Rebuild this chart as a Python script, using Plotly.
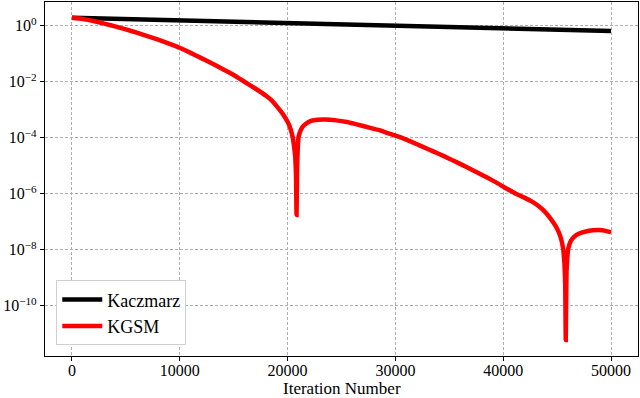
import plotly.graph_objects as go

# Kaczmarz residual (log-linear decay)
kacz_x = [0, 10000, 20000, 30000, 40000, 50000]
kacz_y = [1.93, 1.55, 1.245, 1.0, 0.80, 0.645]

# KGSM residual
kgsm_x = [0, 1000, 2000, 3000, 4000, 5000, 6000, 7000, 8000, 9000, 10000,
          11000, 12000, 13000, 14000, 15000, 16000, 17000, 18000, 18500, 19000,
          19500, 20000, 20250, 20460, 20600, 20710, 20780, 20830, 20880, 20940,
          21020, 21200, 21390, 21700, 22170, 22800, 23500, 24500, 25500, 26500,
          27500, 28500, 29500, 30500, 31500, 32500, 33500, 34500, 35500, 36500,
          37500, 38500, 39500, 40000, 40500, 41170, 42000, 42600, 43300, 43950,
          44500, 45000, 45350, 45550, 45680, 45750, 45800, 45870, 46040,
          46300, 46570, 47000, 47650, 48300, 48890, 49500, 50000]
kgsm_y = [1.93, 1.74, 1.48, 1.20, 0.955, 0.741, 0.569, 0.427, 0.320, 0.232, 0.163,
          0.108, 0.0700, 0.0447, 0.0282, 0.0174, 0.0100, 5.75e-3, 3.16e-3, 2.19e-3, 1.32e-3,
          7.6e-4, 3.7e-4, 2.19e-4, 1.10e-4, 5.0e-5, 2.09e-5, 5.0e-6, 1.74e-7, 7.9e-6, 3.98e-5,
          1.10e-4, 1.78e-4, 2.45e-4, 3.16e-4, 3.98e-4, 4.37e-4, 4.47e-4, 4.17e-4, 3.63e-4, 2.95e-4,
          2.34e-4, 1.86e-4, 1.38e-4, 1.02e-4, 7.1e-5, 4.8e-5, 3.24e-5, 2.19e-5, 1.45e-5, 9.3e-6,
          6.0e-6, 3.8e-6, 2.34e-6, 1.78e-6, 1.38e-6, 1.0e-6, 7.1e-7, 5.4e-7, 3.55e-7, 2.1e-7,
          1.12e-7, 5.6e-8, 2.6e-8, 1.12e-8, 3.16e-9, 6.0e-10, 5.9e-12, 1.58e-9, 1.12e-8,
          2.14e-8, 2.88e-8, 3.72e-8, 4.47e-8, 4.9e-8, 5.0e-8, 4.68e-8, 4.17e-8]

ytick_vals = [1, 1e-2, 1e-4, 1e-6, 1e-8, 1e-10]
ytick_text = ["10<sup>0</sup>", "10<sup>−2</sup>", "10<sup>−4</sup>",
              "10<sup>−6</sup>", "10<sup>−8</sup>", "10<sup>−10</sup>"]
xtick_vals = [0, 10000, 20000, 30000, 40000, 50000]
xtick_text = ["0", "10000", "20000", "30000", "40000", "50000"]
x_title = "Iteration Number"

font_family = "Liberation Serif, DejaVu Serif, serif"

fig = go.Figure()
fig.add_trace(go.Scatter(x=kacz_x, y=kacz_y, mode="lines", name="Kaczmarz",
                         line=dict(color="black", width=4.5)))
fig.add_trace(go.Scatter(x=kgsm_x, y=kgsm_y, mode="lines", name="KGSM",
                         line=dict(color="#ff0000", width=4.5, shape="spline", smoothing=0.3)))

axis_common = dict(showline=True, linecolor="black", linewidth=1.2, mirror=True,
                   ticks="outside", ticklen=4, tickcolor="black", tickwidth=1,
                   showgrid=True, gridcolor="#b0b0b0", gridwidth=0.8, griddash="3px,2px",
                   zeroline=False, automargin=False,
                   tickfont=dict(family=font_family, size=16, color="black"))

fig.update_xaxes(range=[-2500, 52500], tickvals=xtick_vals, ticktext=xtick_text,
                 ticklabelstandoff=-4, **axis_common)
fig.update_yaxes(type="log", range=[-11.8, 0.85], tickvals=ytick_vals, ticktext=ytick_text,
                 **axis_common)

fig.add_annotation(text=x_title, xref="paper", yref="paper", x=0.5, y=-0.093,
                   xanchor="center", yanchor="middle", showarrow=False,
                   font=dict(family=font_family, size=17, color="black"))

fig.update_layout(
    width=640, height=398,
    margin=dict(l=45, r=2, t=2, b=42),
    paper_bgcolor="white", plot_bgcolor="white",
    font=dict(family=font_family, size=16, color="black"),
    showlegend=True,
    legend=dict(x=0.019, y=0.03, xanchor="left", yanchor="bottom",
                bgcolor="white", bordercolor="#d0d0d0", borderwidth=1,
                font=dict(family=font_family, size=18, color="black"),
                itemwidth=40, tracegroupgap=2),
)

fig.write_html("out.html", config={"displayModeBar": False},
               post_script="document.body.style.margin='0';")
